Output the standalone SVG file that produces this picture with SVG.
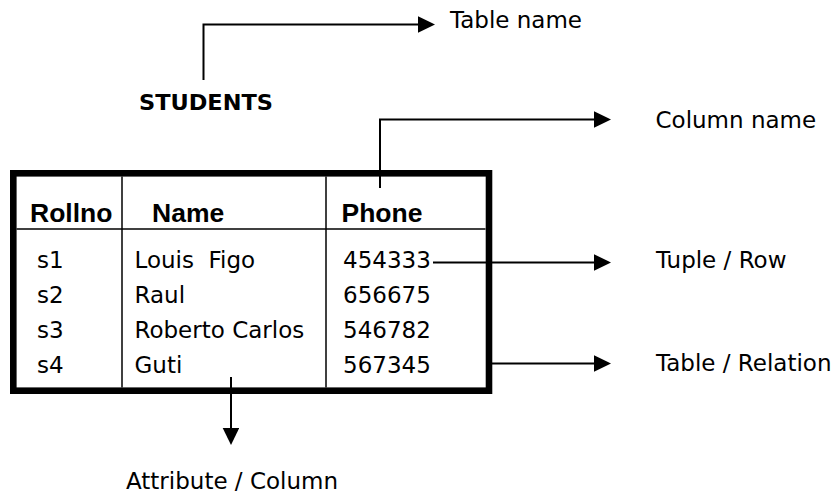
<svg xmlns="http://www.w3.org/2000/svg" width="838" height="495" viewBox="0 0 838 495">
  <style>
    .bg { fill: #ffffff; }
    .label { font-family: "DejaVu Sans", Verdana, sans-serif; font-size: 23px; fill: #000; }
    .head { font-family: "Liberation Sans", Arial, sans-serif; font-weight: bold; font-size: 26.5px; fill: #000; }
    .title { font-family: "DejaVu Sans", Verdana, sans-serif; font-weight: bold; font-size: 22px; fill: #000; }
    .frame { fill: none; stroke: #000; stroke-width: 6.6; }
    .grid { fill: none; stroke: #000; stroke-width: 1.5; }
    .conn { fill: none; stroke: #000; stroke-width: 2; }
  </style>
  <defs>
    <marker id="arrow" markerUnits="userSpaceOnUse" markerWidth="17" markerHeight="17" refX="0" refY="8.3" orient="auto">
      <path d="M0,0 L17,8.3 L0,16.6 Z" fill="#000"/>
    </marker>
  </defs>

  <rect class="bg" x="0" y="0" width="838" height="495"/>

  <!-- table title -->
  <g id="title">
    <text class="title" x="139" y="110" textLength="134" lengthAdjust="spacingAndGlyphs">STUDENTS</text>
  </g>

  <!-- STUDENTS relation -->
  <g id="table">
    <rect class="frame" x="13.3" y="173.3" width="475.7" height="217.4"/>
    <line class="grid" x1="16.5" y1="229" x2="485.5" y2="229"/>
    <line class="grid" x1="122" y1="176.5" x2="122" y2="387.5"/>
    <line class="grid" x1="326" y1="176.5" x2="326" y2="387.5"/>

    <text class="head" x="30" y="222">Rollno</text>
    <text class="head" x="152" y="222">Name</text>
    <text class="head" x="341.5" y="222">Phone</text>

    <text class="label" x="37" y="268">s1</text>
    <text class="label" x="134.5" y="268" xml:space="preserve">Louis  Figo</text>
    <text class="label" x="343" y="268">454333</text>

    <text class="label" x="37" y="303">s2</text>
    <text class="label" x="134.5" y="303">Raul</text>
    <text class="label" x="343" y="303">656675</text>

    <text class="label" x="37" y="338">s3</text>
    <text class="label" x="134.5" y="338">Roberto Carlos</text>
    <text class="label" x="343" y="338">546782</text>

    <text class="label" x="37" y="373">s4</text>
    <text class="label" x="134.5" y="373">Guti</text>
    <text class="label" x="343" y="373">567345</text>
  </g>

  <!-- callout labels -->
  <g id="lbl-table-name"><text class="label" x="450" y="28">Table name</text></g>
  <g id="lbl-column-name"><text class="label" x="655.5" y="128">Column name</text></g>
  <g id="lbl-tuple"><text class="label" x="656" y="268">Tuple / Row</text></g>
  <g id="lbl-relation"><text class="label" x="656" y="371">Table / Relation</text></g>
  <g id="lbl-attribute"><text class="label" x="126" y="489">Attribute / Column</text></g>

  <!-- connectors -->
  <g id="connectors">
    <path class="conn" d="M203.5,80 V24.5 H418" marker-end="url(#arrow)"/>
    <path class="conn" d="M380,188 V119.5 H594" marker-end="url(#arrow)"/>
    <path class="conn" d="M433,262.5 H594" marker-end="url(#arrow)"/>
    <path class="conn" d="M492,363.5 H594" marker-end="url(#arrow)"/>
    <path class="conn" d="M231,377 V428" marker-end="url(#arrow)"/>
  </g>
</svg>
